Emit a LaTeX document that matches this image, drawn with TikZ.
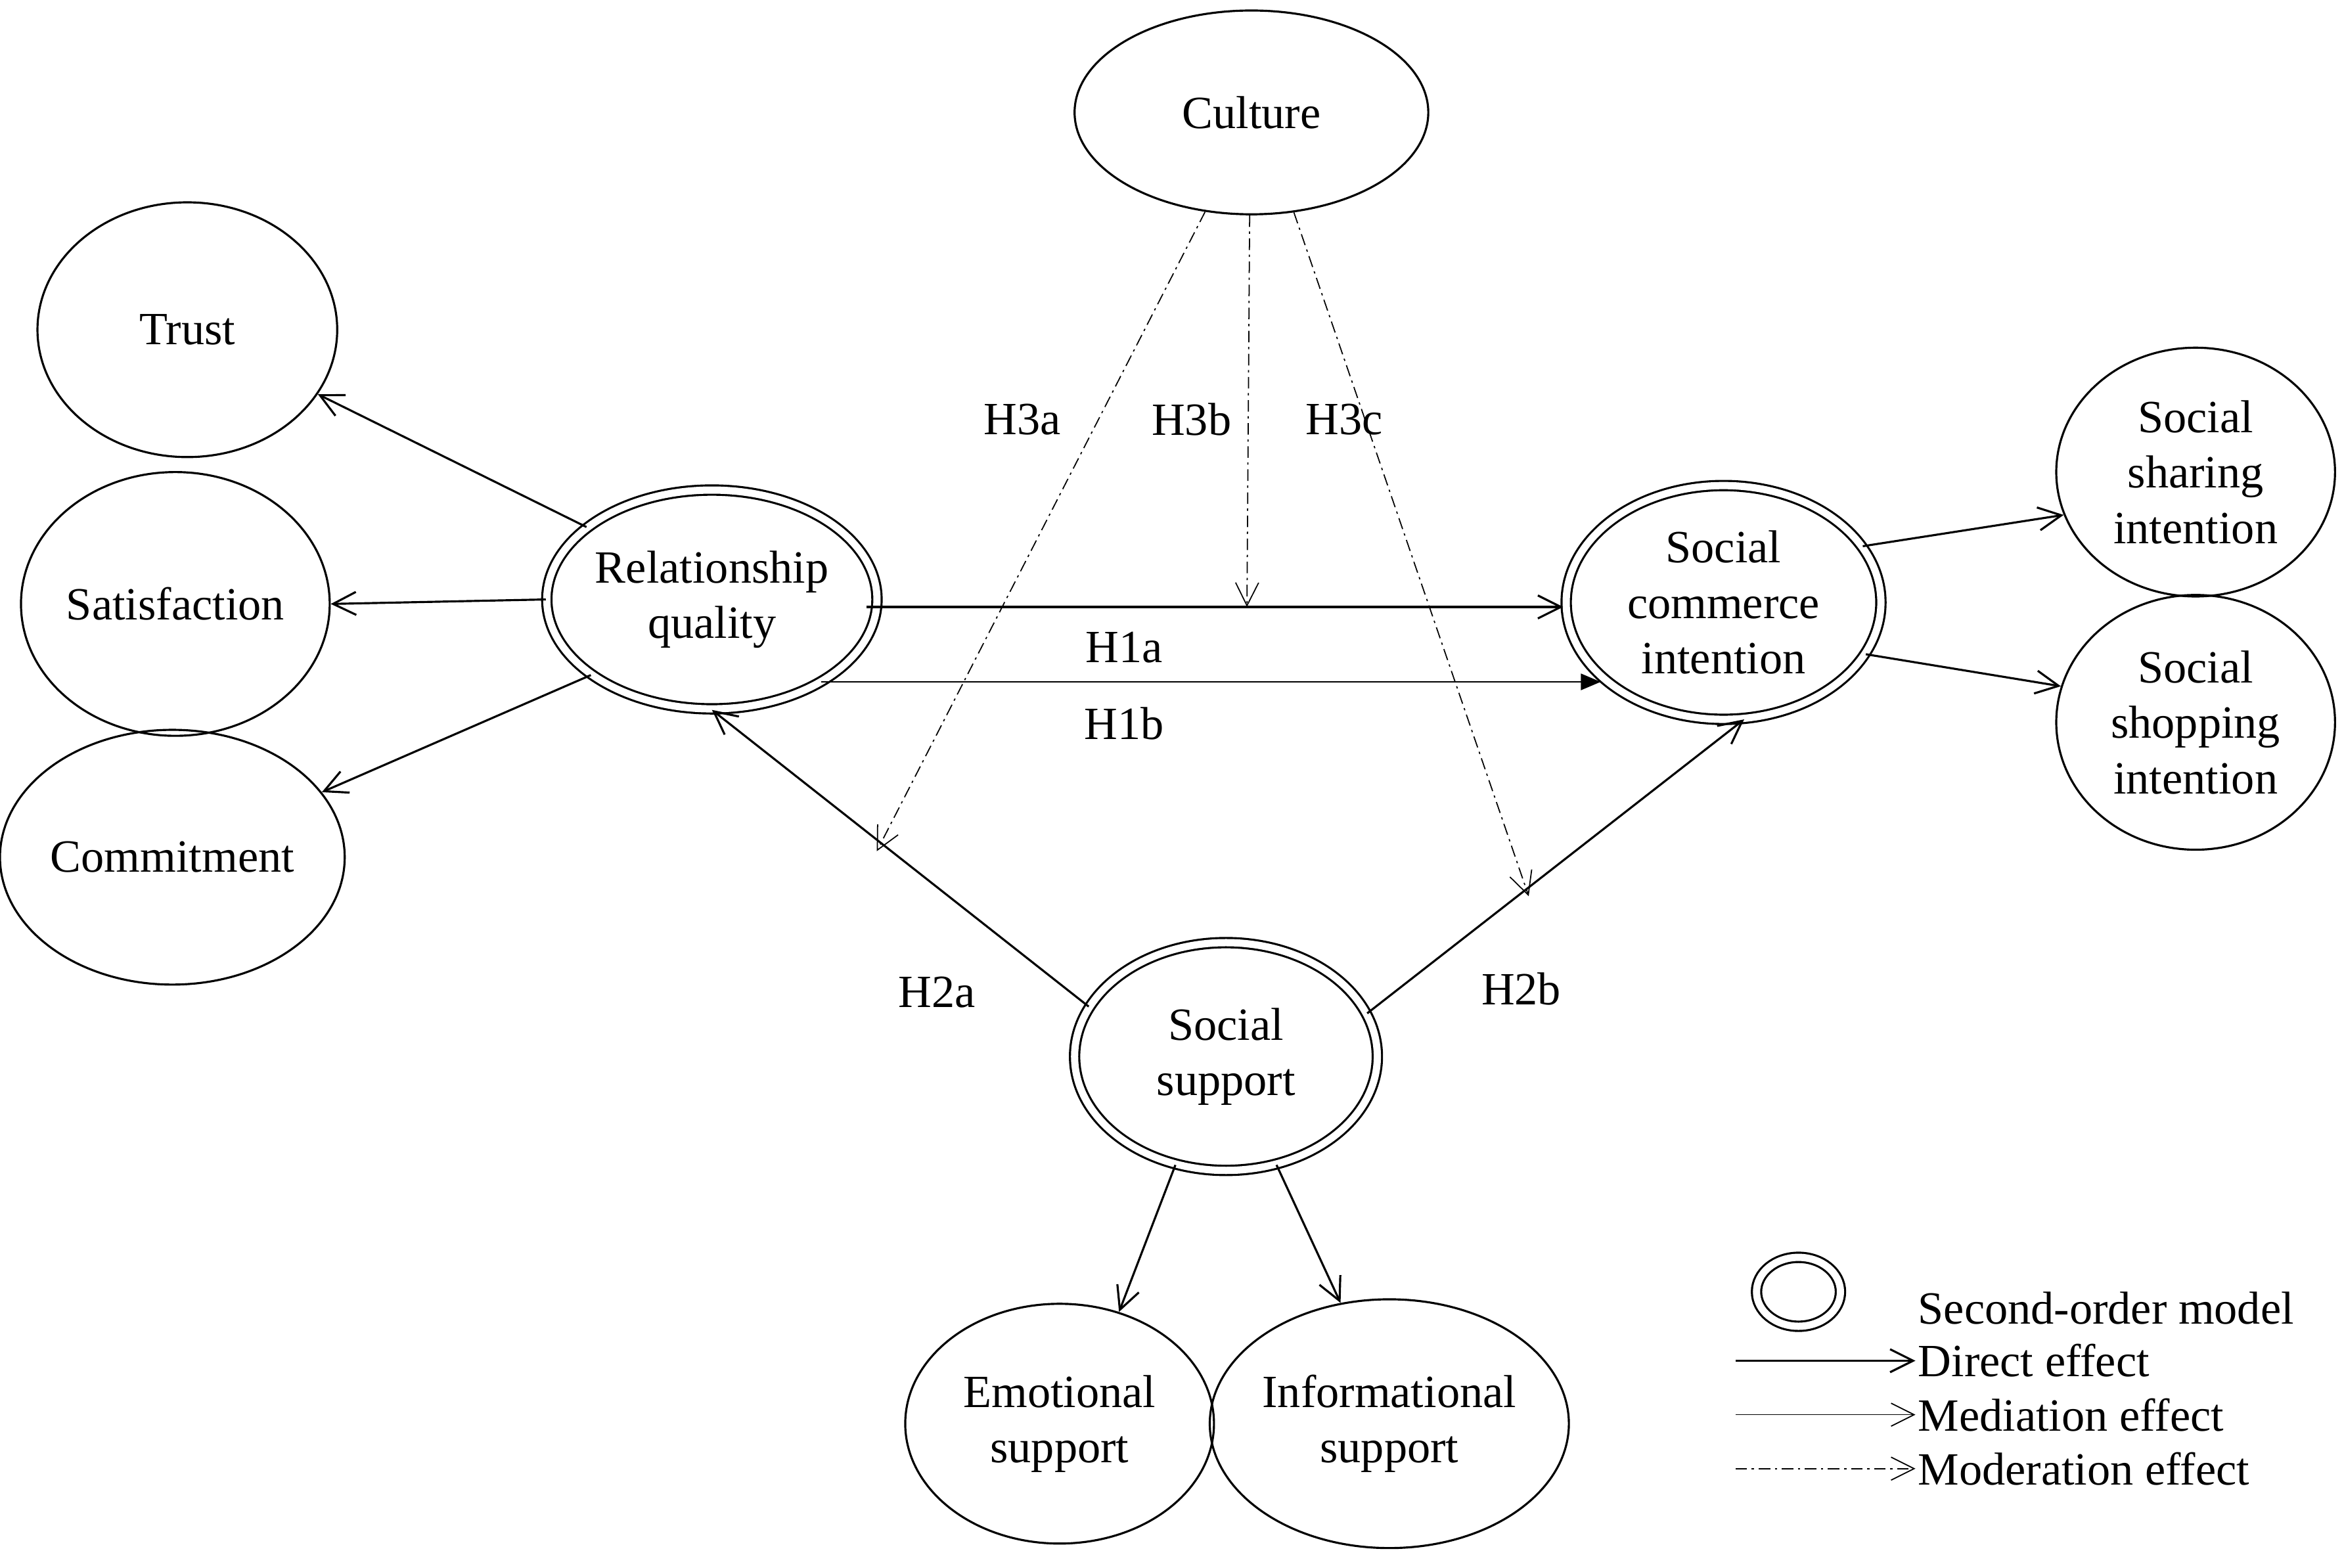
\documentclass[tikz,border=0pt]{standalone}
\usepackage{fontspec}
\setmainfont{Liberation Serif}
\usetikzlibrary{shapes.geometric,arrows.meta}
\begin{document}
\begin{tikzpicture}[x=0.2281mm,y=-0.2281mm,
  font=\fontsize{20}{24}\selectfont,
  el/.style 2 args={ellipse,draw,line width=0.9pt,align=center,inner sep=0pt,
     minimum width={2*#1*0.2281mm},minimum height={2*#2*0.2281mm}},
  del/.style 2 args={el={#1}{#2},double=white,double distance=1.1mm},
  dir/.style={line width=0.9pt,-{Straight Barb[length=3.5mm,width=3.5mm]}},
  med/.style={line width=0.5pt,-{Straight Barb[length=3.5mm,width=3.5mm]}},
  medf/.style={line width=0.5pt,-{Triangle[length=3mm,width=2.5mm]}},
  mod/.style={line width=0.5pt,dash pattern=on 5pt off 2pt on 1pt off 2pt,-{Straight Barb[length=3.5mm,width=3.5mm]}},
  lab/.style={inner sep=1pt}]
\useasboundingbox (0,0) rectangle (1564,1046);
\node[el={118}{68}] (cul) at (835,75) {Culture};
\node[el={100}{85}] (tr) at (125,220) {Trust};
\node[el={103}{88}] (sat) at (117,403) {Satisfaction};
\node[el={102}{85}] (com) at (115,572) {Commitment};
\node[del={101}{73}] (rq) at (475,400) {Relationship\\quality};
\node[del={105}{78}] (sci) at (1150,402) {Social\\commerce\\intention};
\node[el={93}{83}] (sh) at (1465,315) {Social\\sharing\\intention};
\node[el={93}{85}] (sp) at (1465,482) {Social\\shopping\\intention};
\node[del={101}{76}] (ss) at (818,705) {Social\\support};
\node[el={103}{80}] (em) at (707,950) {Emotional\\support};
\node[el={103}{83}] (inf) at (927,950) {Informational\\support};
\node[del={28}{23}] (lg) at (1200,862) {};

\draw[dir] (rq.150) -- (tr);
\draw[dir] (rq.west) -- (sat.east);
\draw[dir] (rq.212) -- (com);
\coordinate (a1) at (578,405); \coordinate (a2) at (1043,405);
\draw[dir] (a1) -- (a2);
\node[lab] (h1a) at (750,432) {H1a};
\coordinate (b1) at (548,455); \coordinate (b2) at (1068,455);
\draw[medf] (b1) -- (b2);
\node[lab] (h1b) at (750,483) {H1b};
\draw[dir] (ss.160) -- (rq.south);
\node[lab] (h2a) at (625,662) {H2a};
\draw[dir] (ss.17) -- (sci.-80);
\node[lab] (h2b) at (1015,660) {H2b};
\draw[dir] (ss.-115) -- (em.62);
\draw[dir] (ss.-65) -- (inf.112);
\draw[dir] (sci.22) -- (sh.198);
\draw[dir] (sci.-20) -- (sp.165);

\coordinate (m1) at (585,568); \coordinate (m2) at (832,405); \coordinate (m3) at (1020,598);
\draw[mod] (cul.-115) -- (m1);
\draw[mod] (cul.-91) -- (m2);
\draw[mod] (cul.-67) -- (m3);
\node[lab] (h3a) at (682,280) {H3a};
\node[lab] (h3b) at (795,280) {H3b};
\node[lab] (h3c) at (897,280) {H3c};

\node[anchor=west,lab] (t0) at (1278,873) {Second-order model};
\node[anchor=west,lab] (t1) at (1278,908) {Direct effect};
\node[anchor=west,lab] (t2) at (1278,944) {Mediation effect};
\node[anchor=west,lab] (t3) at (1278,980) {Moderation effect};
\coordinate (l1) at (1158,908); \coordinate (l2) at (1158,944); \coordinate (l3) at (1158,980);
\draw[dir] (l1) -- (t1.west);
\draw[med] (l2) -- (t2.west);
\draw[mod] (l3) -- (t3.west);
\end{tikzpicture}
\end{document}
